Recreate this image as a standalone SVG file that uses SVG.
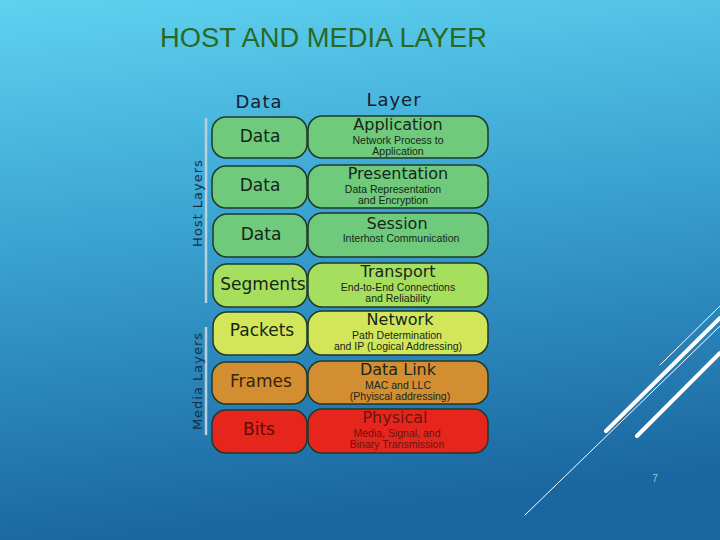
<svg xmlns="http://www.w3.org/2000/svg" width="720" height="540" viewBox="0 0 720 540">
<defs>
<linearGradient id="bg" x1="0" y1="0" x2="0.15" y2="1">
<stop offset="0" stop-color="#5fd2ef"/>
<stop offset="0.45" stop-color="#3aa3d2"/>
<stop offset="1" stop-color="#1a66a0"/>
</linearGradient>
<style>
.box{stroke:#1f3a2a;stroke-width:1.5}
.g1{fill:#6fca7b}
.g2{fill:#a6de5e}
.g3{fill:#d3e65a}
.or{fill:#d38e32}
.rd{fill:#e6261d}
.lbl{font-family:"DejaVu Sans",sans-serif;font-size:17px;text-anchor:middle;fill:#16261a}
.ttl{font-family:"DejaVu Sans",sans-serif;font-size:16px;text-anchor:middle;fill:#16261a}
.sub{font-family:"Liberation Sans",Arial,sans-serif;font-size:10.5px;text-anchor:middle;fill:#16261a}
.hdr{font-family:"DejaVu Sans",sans-serif;font-size:18px;text-anchor:middle;fill:#182030;letter-spacing:1px}
.side{font-family:"DejaVu Sans",sans-serif;font-size:13px;text-anchor:middle;fill:#14304a;letter-spacing:1px}
.bar{stroke:#b8d0dc;stroke-width:2.5}
.wl{stroke:#ffffff;fill:none;stroke-linecap:round}
</style>
</defs>
<rect width="720" height="540" fill="url(#bg)"/>
<text x="160" y="47" font-family="Liberation Sans,Arial,sans-serif" font-size="27" fill="#2a6a1e" textLength="327" lengthAdjust="spacingAndGlyphs">HOST AND MEDIA LAYER</text>

<g id="decor">
<line class="wl" x1="660" y1="365" x2="720" y2="306" stroke-width="1"/>
<line class="wl" x1="606" y1="431" x2="720" y2="318" stroke-width="4"/>
<line class="wl" x1="525" y1="515" x2="720" y2="326" stroke-width="1"/>
<line class="wl" x1="637" y1="436" x2="720" y2="353" stroke-width="4"/>
<text x="655" y="482" font-family="Liberation Sans,Arial,sans-serif" font-size="10" fill="#7fd6c0" text-anchor="middle">7</text>
</g>

<g id="headers">
<text class="hdr" x="259" y="108">Data</text>
<text class="hdr" x="394" y="106">Layer</text>
</g>

<g id="side-labels">
<line class="bar" x1="206" y1="118" x2="206" y2="303"/>
<text class="side" transform="translate(202,203) rotate(-90)">Host Layers</text>
<line class="bar" x1="206" y1="327" x2="206" y2="435"/>
<text class="side" transform="translate(202,381) rotate(-90)">Media Layers</text>
</g>

<g id="row-application">
<rect class="box g1" x="212" y="117" width="95" height="41" rx="14"/>
<text class="lbl" x="260" y="142">Data</text>
<rect class="box g1" x="308" y="116" width="180" height="42" rx="14"/>
<text class="ttl" x="398" y="130">Application</text>
<text class="sub" x="398" y="143.5">Network Process to</text>
<text class="sub" x="398" y="154.5">Application</text>
</g>

<g id="row-presentation">
<rect class="box g1" x="212" y="166" width="95" height="42" rx="14"/>
<text class="lbl" x="260" y="191">Data</text>
<rect class="box g1" x="308" y="165" width="180" height="43" rx="14"/>
<text class="ttl" x="398" y="179">Presentation</text>
<text class="sub" x="393" y="192.5">Data Representation</text>
<text class="sub" x="393" y="203.5">and Encryption</text>
</g>

<g id="row-session">
<rect class="box g1" x="213" y="214" width="94" height="43" rx="14"/>
<text class="lbl" x="261" y="240">Data</text>
<rect class="box g1" x="308" y="213" width="180" height="44" rx="14"/>
<text class="ttl" x="397" y="229">Session</text>
<text class="sub" x="401" y="242">Interhost Communication</text>
</g>

<g id="row-transport">
<rect class="box g2" x="213" y="264" width="94" height="43" rx="14"/>
<text class="lbl" x="263" y="290">Segments</text>
<rect class="box g2" x="308" y="263" width="180" height="44" rx="14"/>
<text class="ttl" x="398" y="277">Transport</text>
<text class="sub" x="398" y="290.5">End-to-End Connections</text>
<text class="sub" x="398" y="301.5">and Reliability</text>
</g>

<g id="row-network">
<rect class="box g3" x="213" y="312" width="94" height="43" rx="14"/>
<text class="lbl" x="262" y="336">Packets</text>
<rect class="box g3" x="308" y="311" width="180" height="44" rx="14"/>
<text class="ttl" x="400" y="325">Network</text>
<text class="sub" x="397" y="338.5">Path Determination</text>
<text class="sub" x="398" y="349.5">and IP (Logical Addressing)</text>
</g>

<g id="row-datalink">
<rect class="box or" x="212" y="362" width="95" height="42" rx="14"/>
<text class="lbl" x="261" y="387" style="fill:#3a2210">Frames</text>
<rect class="box or" x="308" y="361" width="180" height="43" rx="14"/>
<text class="ttl" x="398" y="375">Data Link</text>
<text class="sub" x="398" y="388.5">MAC and LLC</text>
<text class="sub" x="400" y="399.5">(Phyiscal addressing)</text>
</g>

<g id="row-physical">
<rect class="box rd" x="212" y="410" width="95" height="43" rx="14"/>
<text class="lbl" x="259" y="435" style="fill:#5a0e0a">Bits</text>
<rect class="box rd" x="308" y="409" width="180" height="44" rx="14"/>
<text class="ttl" x="395" y="423" style="fill:#6a1410">Physical</text>
<text class="sub" x="397" y="436.5" style="fill:#6a1410">Media, Signal, and</text>
<text class="sub" x="397" y="447.5" style="fill:#6a1410">Binary Transmission</text>
</g>
</svg>
